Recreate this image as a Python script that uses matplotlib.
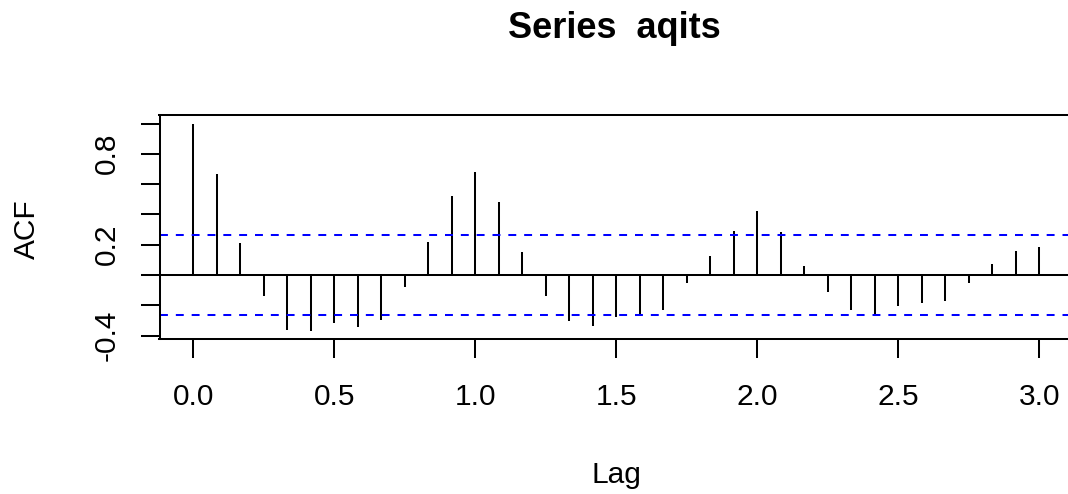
import matplotlib
matplotlib.use("Agg")
import matplotlib.pyplot as plt
import numpy as np

plt.rcParams['font.family'] = ['Liberation Sans', 'DejaVu Sans']
plt.rcParams['lines.scale_dashes'] = False

# Data (monthly series -> lag in years)
lags_per_year = 12
acf_values = [1.000, 0.667, 0.213, -0.136, -0.365, -0.370, -0.317, -0.341, -0.295, -0.079,
              0.216, 0.521, 0.682, 0.482, 0.150, -0.136, -0.304, -0.337, -0.275, -0.262,
              -0.231, -0.055, 0.125, 0.288, 0.425, 0.282, 0.057, -0.114, -0.233, -0.255,
              -0.202, -0.187, -0.174, -0.051, 0.073, 0.156, 0.183]
ci = 0.262
x_ticks = [0.0, 0.5, 1.0, 1.5, 2.0, 2.5, 3.0]
x_tick_labels = ["0.0", "0.5", "1.0", "1.5", "2.0", "2.5", "3.0"]
y_ticks = [-0.4, -0.2, 0.0, 0.2, 0.4, 0.6, 0.8, 1.0]
y_tick_labels = ["-0.4", "", "", "0.2", "", "", "0.8", ""]
title = "Series  aqits"
xlabel = "Lag"
ylabel = "ACF"

lags = np.arange(len(acf_values)) / lags_per_year
acf = np.array(acf_values)

W, H = 1068, 494
fig = plt.figure(figsize=(W / 100, H / 100), dpi=100)
ax = fig.add_axes([159.5 / W, (H - 339.4) / H, 913.5 / W, (339.4 - 115.2) / H])

lw = 1.45
ax.vlines(lags, 0, acf, colors='black', linewidth=lw)
ax.axhline(0, color='black', linewidth=lw)
ax.axhline(ci, color='#0000FF', linewidth=lw, linestyle=(0, (5.7, 5.7)))
ax.axhline(-ci, color='#0000FF', linewidth=lw, linestyle=(0, (5.7, 5.7)))

xr = lags.max() - lags.min()
ax.set_xlim(lags.min() - 0.04 * xr, lags.max() + 0.04 * xr)
ylo = min(acf.min(), -ci)
yhi = max(acf.max(), ci)
yr = yhi - ylo
ax.set_ylim(ylo - 0.04 * yr, yhi + 0.04 * yr)

for s in ax.spines.values():
    s.set_linewidth(lw)

ax.set_xticks(x_ticks)
ax.set_xticklabels(x_tick_labels)
ax.set_yticks(y_ticks)
ax.set_yticklabels(y_tick_labels, rotation=90, va='center')

ax.tick_params(axis='both', direction='out', length=13.7, width=lw, labelsize=21.5, color='black')
ax.tick_params(axis='x', pad=18)
ax.tick_params(axis='y', pad=14)

fig.text(614 / W, 1 - 38.3 / H, title, ha='center', va='baseline', fontsize=26, fontweight='bold')
fig.text(616 / W, 1 - 483.3 / H, xlabel, ha='center', va='baseline', fontsize=21.5)
fig.text(27 / W, 1 - 229 / H, ylabel, ha='center', va='center', fontsize=21.5, rotation=90)

fig.savefig("out.png", dpi=100)
